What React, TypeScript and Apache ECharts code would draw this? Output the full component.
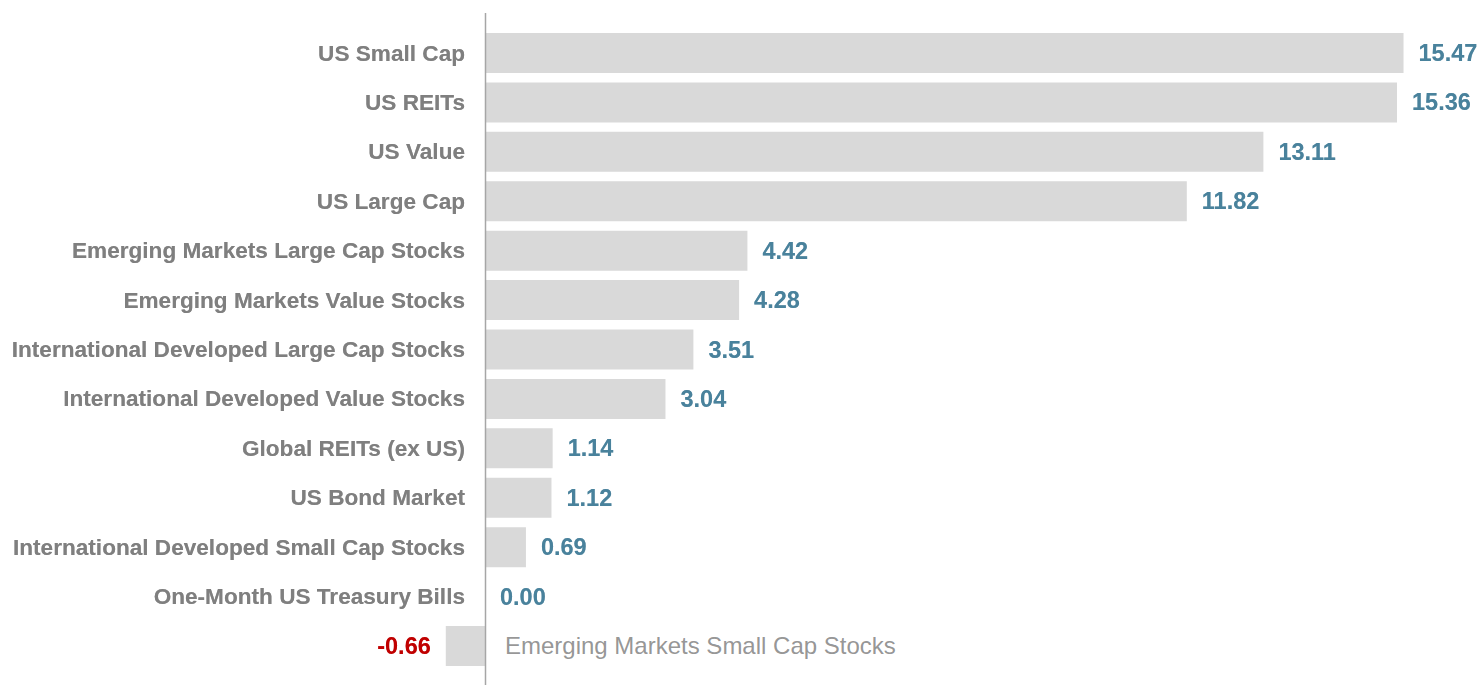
import React, { useEffect, useRef } from "react";
import * as echarts from "echarts";

const categories = [
  "US Small Cap",
  "US REITs",
  "US Value",
  "US Large Cap",
  "Emerging Markets Large Cap Stocks",
  "Emerging Markets Value Stocks",
  "International Developed Large Cap Stocks",
  "International Developed Value Stocks",
  "Global REITs (ex US)",
  "US Bond Market",
  "International Developed Small Cap Stocks",
  "One-Month US Treasury Bills",
  "Emerging Markets Small Cap Stocks",
];
const values = [15.47, 15.36, 13.11, 11.82, 4.42, 4.28, 3.51, 3.04, 1.14, 1.12, 0.69, 0.0, -0.66];
const xMin = -1;
const xMax = 16.8;

const GREY = "#7f7f7f";
const BLUE = "#4a829c";
const RED = "#c00000";
const FONT = "'Liberation Sans', Arial, sans-serif";

export default function App() {
  const ref = useRef<HTMLDivElement>(null);
  useEffect(() => {
    if (!ref.current) return;
    const chart = echarts.init(ref.current, null, { renderer: "svg" });
    const lastCat = categories[categories.length - 1];
    chart.setOption({
      animation: false,
      grid: {
        left: 425.6,
        right: 0.5,
        top: 28.3,
        bottom: 14.3,
        containLabel: false,
        outerBoundsMode: "none",
      },
      xAxis: {
        type: "value",
        min: xMin,
        max: xMax,
        show: false,
        splitLine: { show: false },
      },
      yAxis: {
        type: "category",
        inverse: true,
        data: categories,
        axisLine: { show: false },
        axisTick: { show: false },
        axisLabel: {
          margin: -39.4,
          color: GREY,
          fontFamily: FONT,
          fontWeight: "bold",
          fontSize: 22.6,
          textShadowColor: "rgba(127,127,127,0.6)",
          textShadowBlur: 1.5,
          formatter: (v: string) => (v === lastCat ? "" : v),
        },
      },
      series: [
        {
          type: "bar",
          barCategoryGap: "19%",
          itemStyle: { color: "#d9d9d9" },
          data: values.map((v) => ({
            value: v,
            label: {
              show: true,
              position: v < 0 ? "left" : "right",
              distance: 15,
              color: v < 0 ? RED : BLUE,
              fontFamily: FONT,
              fontWeight: "bold",
              fontSize: 23.5,
              textShadowColor: v < 0 ? "rgba(192,0,0,0.5)" : "rgba(74,130,156,0.5)",
              textShadowBlur: 1.5,
              formatter: () => v.toFixed(2),
            },
          })),
        },
        {
          type: "scatter",
          symbolSize: 0,
          silent: true,
          data: [[0, lastCat]],
          label: {
            show: true,
            position: "right",
            distance: 20,
            color: "#7a7a7a",
            fontFamily: FONT,
            fontSize: 24,
            formatter: () => lastCat,
          },
        },
      ],
    });
    const x0 = chart.convertToPixel({ xAxisIndex: 0 }, 0) as number;
    chart.setOption({
      graphic: [
        {
          type: "line",
          shape: { x1: Math.round(x0) + 0.5, y1: 13, x2: Math.round(x0) + 0.5, y2: 685 },
          style: { stroke: "#a6a6a6", lineWidth: 1.5 },
          z: 10,
        },
      ],
    });
    return () => chart.dispose();
  }, []);
  return (
    <div
      ref={ref}
      style={{ position: "absolute", left: 0, top: 0, width: 1483, height: 685 }}
    />
  );
}
